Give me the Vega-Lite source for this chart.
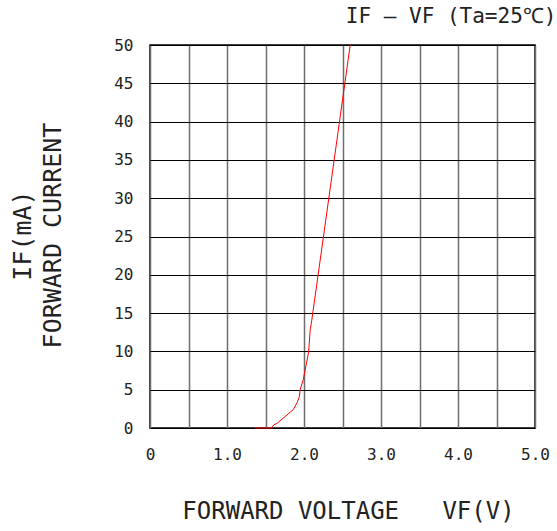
{
  "$schema": "https://vega.github.io/schema/vega-lite/v6.json",
  "autosize": {"type": "none"},
  "padding": {"left": 150, "top": 45, "right": 22, "bottom": 103},
  "width": 385,
  "height": 383,
  "background": "white",
  "config": {
    "font": "DejaVu Sans Mono",
    "view": {"stroke": "black", "strokeWidth": 1.5},
    "axis": {"labelFont": "DejaVu Sans Mono", "titleFont": "DejaVu Sans Mono"}
  },
  "title": {
    "text": "IF — VF (Ta=25℃)",
    "anchor": "end",
    "dx": 7,
    "offset": 10,
    "fontSize": 21,
    "fontWeight": "normal",
    "color": "#222",
    "font": "DejaVu Sans Mono"
  },
  "data": {
    "values": [
      {"vf": 1.36, "current": 0},
      {"vf": 1.58, "current": 0},
      {"vf": 1.61, "current": 0.43},
      {"vf": 1.65, "current": 0.6},
      {"vf": 1.86, "current": 2.4},
      {"vf": 1.91, "current": 3.3},
      {"vf": 1.94, "current": 4.1},
      {"vf": 1.95, "current": 5.0},
      {"vf": 1.99, "current": 6.3},
      {"vf": 2.06, "current": 9.9},
      {"vf": 2.08, "current": 12.8},
      {"vf": 2.1, "current": 14},
      {"vf": 2.6, "current": 50}
    ]
  },
  "mark": {"type": "line", "color": "red", "strokeWidth": 1, "clip": false},
  "encoding": {
    "x": {
      "field": "vf",
      "type": "quantitative",
      "scale": {"domain": [0, 5], "nice": false, "zero": false},
      "axis": {
        "values": [0, 0.5, 1, 1.5, 2, 2.5, 3, 3.5, 4, 4.5, 5],
        "labelExpr": "datum.value == 0 ? '0' : (datum.value % 1 == 0 ? format(datum.value, '.1f') : '')",
        "domain": false,
        "ticks": false,
        "grid": true,
        "gridColor": "#6e6e6e",
        "gridWidth": 1.5,
        "gridOpacity": 1,
        "labelFontSize": 16,
        "labelColor": "#222",
        "labelPadding": 18,
        "labelFlush": false,
        "labelBound": false,
        "labelOverlap": false,
        "title": "FORWARD VOLTAGE\u00a0\u00a0\u00a0VF(V)",
        "titleFontSize": 24,
        "titleFontWeight": "normal",
        "titleColor": "#222",
        "titleX": 198,
        "titleY": 83,
        "titleBaseline": "middle",
        "titleAlign": "center"
      }
    },
    "y": {
      "field": "current",
      "type": "quantitative",
      "scale": {"domain": [0, 50], "nice": false},
      "axis": {
        "values": [0, 5, 10, 15, 20, 25, 30, 35, 40, 45, 50],
        "domain": false,
        "ticks": false,
        "grid": true,
        "gridColor": "black",
        "gridWidth": 1.2,
        "gridOpacity": 1,
        "labelFontSize": 16,
        "labelColor": "#222",
        "labelPadding": 17,
        "labelFlush": false,
        "labelBound": false,
        "labelOverlap": false,
        "title": ["IF(mA)", "FORWARD CURRENT"],
        "titleFontSize": 25,
        "titleFontWeight": "normal",
        "titleColor": "#222",
        "titleLineHeight": 30,
        "titleAngle": -90,
        "titleX": -128,
        "titleY": 190,
        "titleBaseline": "middle",
        "titleAlign": "center"
      }
    }
  }
}
